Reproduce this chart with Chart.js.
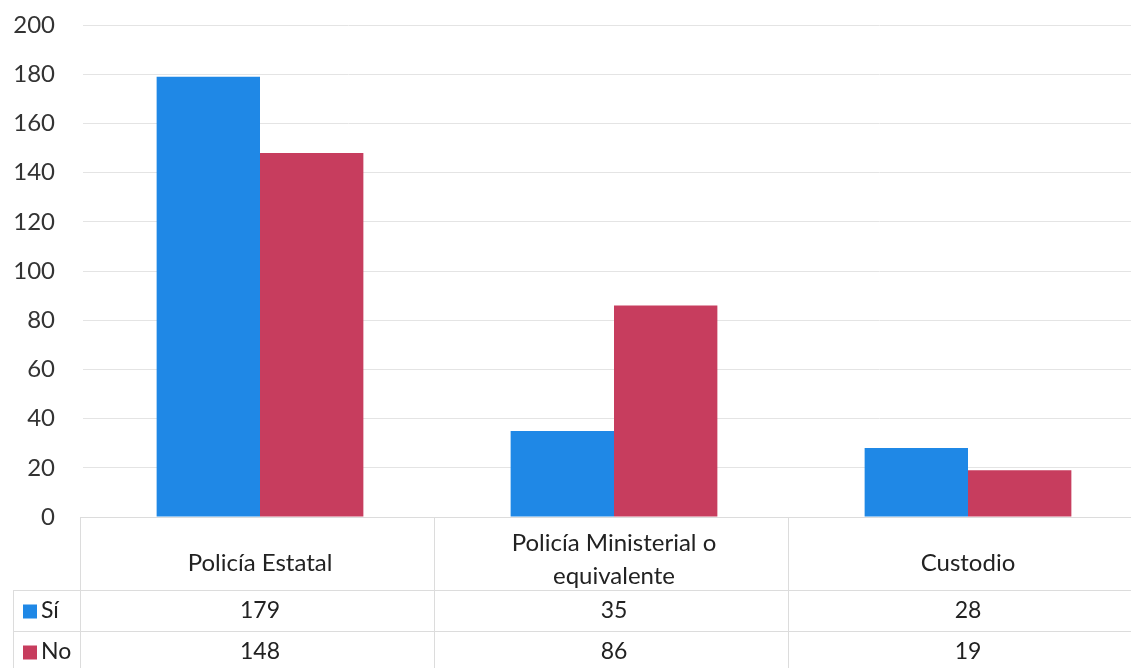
<!DOCTYPE html>
<html lang="es">
<head>
<meta charset="UTF-8">
<title>Policía - Sí / No</title>
<script src="https://cdn.jsdelivr.net/npm/chart.js"></script>
<style>
  html, body { margin: 0; padding: 0; background: #fff; overflow: hidden; }
  #wrap { width: 1150px; height: 668px; position: relative; }
</style>
</head>
<body>
<div id="wrap"><canvas id="chart"></canvas></div>
<script>
// chart data
const categories = [['Policía Estatal'], ['Policía Ministerial o', 'equivalente'], ['Custodio']];
const seriesNames = ['Sí', 'No'];
const siValues = [179, 35, 28];
const noValues = [148, 86, 19];
const seriesColors = ['#1f88e6', '#c73d5e'];
const yTicks = [0, 20, 40, 60, 80, 100, 120, 140, 160, 180, 200];

const FONT = 'Lato, "Open Sans", sans-serif';
const lineColor = '#dcdcdc';

// draws the data table under the plot (category names, legend keys, values)
const dataTable = {
  id: 'dataTable',
  afterDraw(chart) {
    const ctx = chart.ctx;
    const x = chart.scales.x;
    const area = chart.chartArea;
    const base = Math.round(area.bottom);
    const headBottom = base + 73;
    const rowH = 41;
    const tableLeft = 13;
    const catW = x.getPixelForValue(1) - x.getPixelForValue(0);

    ctx.save();
    ctx.strokeStyle = lineColor;
    ctx.lineWidth = 1;
    ctx.beginPath();
    // horizontal lines
    ctx.moveTo(area.left - 3, base + 0.5); ctx.lineTo(area.right, base + 0.5);
    [headBottom, headBottom + rowH].forEach(y => {
      ctx.moveTo(tableLeft, y + 0.5); ctx.lineTo(area.right, y + 0.5);
    });
    // vertical lines
    ctx.moveTo(tableLeft + 0.5, headBottom); ctx.lineTo(tableLeft + 0.5, chart.height);
    for (let i = 0; i < categories.length; i++) {
      const xl = Math.round(x.getPixelForValue(i) - catW / 2) - 2.5;
      ctx.moveTo(xl, base); ctx.lineTo(xl, chart.height);
    }
    ctx.stroke();

    ctx.fillStyle = '#222';
    ctx.font = '24px ' + FONT;
    ctx.textAlign = 'center';
    ctx.textBaseline = 'middle';
    const headMid = base + 46;
    categories.forEach((lines, i) => {
      const cx = x.getPixelForValue(i);
      const lh = 33;
      lines.forEach((t, j) => {
        ctx.fillText(t, cx, headMid + (j - (lines.length - 1) / 2) * lh - (lines.length > 1 ? 3 : 0));
      });
    });

    const rows = [siValues, noValues];
    ctx.font = '23px ' + FONT;
    rows.forEach((vals, r) => {
      const cy = headBottom + rowH * r + rowH / 2;
      ctx.fillStyle = seriesColors[r];
      ctx.fillRect(23, cy - 6, 14, 14);
      ctx.fillStyle = '#222';
      ctx.textAlign = 'left';
      ctx.fillText(seriesNames[r], 41, cy);
      ctx.textAlign = 'center';
      vals.forEach((v, i) => ctx.fillText(String(v), x.getPixelForValue(i), cy));
    });
    ctx.restore();
  }
};

new Chart(document.getElementById('chart'), {
  type: 'bar',
  data: {
    labels: categories.map(c => c.join(' ')),
    datasets: [
      { label: seriesNames[0], data: siValues, backgroundColor: seriesColors[0] },
      { label: seriesNames[1], data: noValues, backgroundColor: seriesColors[1] }
    ]
  },
  options: {
    responsive: true,
    maintainAspectRatio: false,
    animation: false,
    layout: { padding: { top: 25, right: 5, bottom: 151, left: 0 } },
    plugins: { legend: { display: false }, tooltip: { enabled: false } },
    datasets: { bar: { categoryPercentage: 0.584, barPercentage: 1 } },
    scales: {
      x: {
        display: false,
        grid: { display: false }
      },
      y: {
        min: 0,
        max: 200,
        afterFit(scale) { scale.width = 83; scale.paddingTop = 0; },
        afterBuildTicks(scale) { scale.ticks = yTicks.map(v => ({ value: v })); },
        border: { display: false },
        grid: { color: '#e4e4e4', drawTicks: false },
        ticks: { padding: 28, color: '#333', font: { family: FONT, size: 24 } }
      }
    }
  },
  plugins: [dataTable]
});
</script>
</body>
</html>
